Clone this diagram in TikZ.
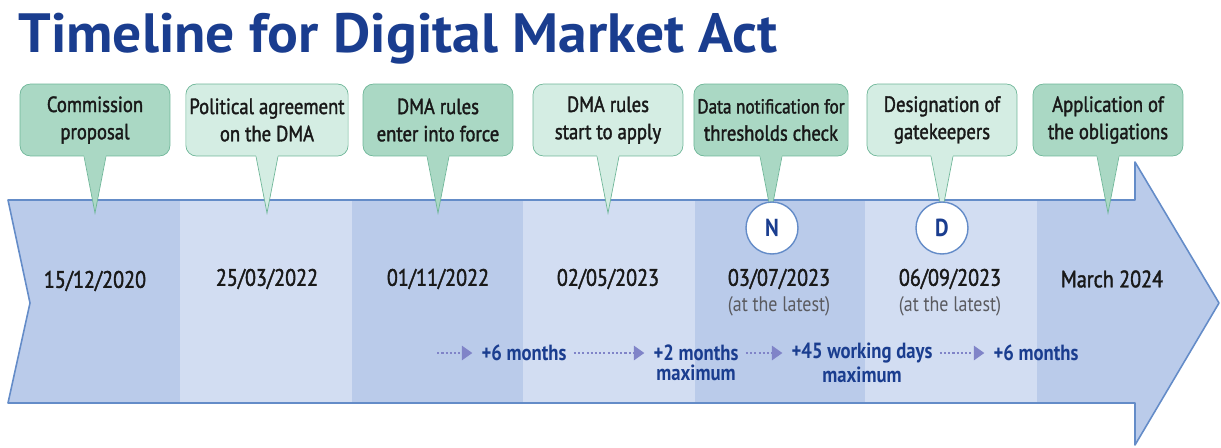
\documentclass[tikz,border=0pt]{standalone}
\usepackage{fontspec}
\setmainfont{PT Sans}[FakeStretch=0.85]
\newfontfamily\medfont{PT Sans}[FakeStretch=0.85,FakeBold=1.6]
\newfontfamily\titlefont{PT Sans Bold}[FakeStretch=1.04]
\usetikzlibrary{positioning,arrows.meta,calc}

\begin{document}
\begin{tikzpicture}[x=0.02cm,y=-0.02cm,every node/.style={font=\fontsize{12}{14}\selectfont}]

\definecolor{titleblue}{RGB}{26,61,143}
\definecolor{banddark}{RGB}{186,203,234}
\definecolor{bandlight}{RGB}{210,221,242}
\definecolor{bandline}{RGB}{100,140,200}
\definecolor{greendark}{RGB}{170,216,196}
\definecolor{greenlight}{RGB}{212,237,227}
\definecolor{greenline}{RGB}{110,182,152}
\definecolor{dotpurple}{RGB}{128,132,200}
\definecolor{latergray}{RGB}{90,90,95}

\tikzset{
  callbox/.style={draw=greenline,rounded corners=6pt,minimum width=3cm,
    minimum height=1.44cm,align=center,inner sep=2pt,text=black!90,
    font=\medfont\fontsize{12.5}{15.5}\selectfont},
  datetext/.style={font=\medfont\fontsize{13.5}{16}\selectfont,text=black!90},
  markcircle/.style={circle,draw=bandline,thick,fill=white,minimum size=1.04cm,
    inner sep=0pt,text=titleblue,font=\fontsize{14}{16}\bfseries},
  durtext/.style={text=titleblue,inner sep=1pt,font=\fontsize{12.5}{14}\bfseries},
  durarrow/.style={draw=dotpurple,line width=1.6pt,dash pattern=on 1.2pt off 1.2pt,
    -{Triangle[length=6pt,width=8pt,fill=dotpurple]},shorten >=4pt,shorten <=3pt}
}

\useasboundingbox (0,0) rectangle (1221,447);

% ===================== TITLE =====================
\node[anchor=base west,inner sep=0pt,text=titleblue,
  font=\titlefont\fontsize{31.5}{34}\selectfont] (title) at (18,52) {Timeline for Digital Market Act};

% ===================== BAND =====================
\begin{scope}
  \clip (8,200) -- (1135,200) -- (1135,162) -- (1219,303) -- (1135,445)
    -- (1135,403) -- (8,403) -- (30,303) -- cycle;
  \foreach \xa/\xb/\c in {8/180/banddark,180/352/bandlight,352/523/banddark,
      523/695/bandlight,695/865/banddark,865/1037/bandlight,1037/1221/banddark}
    \fill[\c] (\xa,150) rectangle (\xb,447);
\end{scope}
\draw[bandline,line width=0.9pt,line join=round] (8,200) -- (1135,200) -- (1135,162)
  -- (1219,303) -- (1135,445) -- (1135,403) -- (8,403) -- (30,303) -- cycle;

% ===================== CALLOUTS =====================
\foreach \n/\x/\c/\txt in {1/95/greendark/{Commission\\proposal},
    2/267/greenlight/{Political agreement\\on the DMA},
    3/438/greendark/{DMA rules\\enter into force},
    4/608/greenlight/{DMA rules\\start to apply},
    5/771/greendark/{\fontsize{11.5}{15.5}\selectfont Data notification for\\thresholds check},
    6/942/greenlight/{Designation of\\gatekeepers},
    7/1108/greendark/{Application of\\the obligations}}{
  \node[callbox,fill=\c] (e\n) at (\x,120) {\txt};
  \coordinate (t\n) at (\x,213);
  \fill[\c] ($(e\n.south)+(-11,-1.5)$) -- (t\n) -- ($(e\n.south)+(11,-1.5)$) -- cycle;
  \draw[greenline] ($(e\n.south)+(-11,0)$) -- (t\n) -- ($(e\n.south)+(11,0)$);
}

% ===================== MARKS =====================
\node[markcircle] (notif) at (772,228) {N};
\node[markcircle] (desig) at (942,228) {D};

% ===================== DATES =====================
\node[datetext] (d1) at (95,281) {15/12/2020};
\node[datetext] (d2) at (267,279) {25/03/2022};
\node[datetext] (d3) at (438,279) {01/11/2022};
\node[datetext] (d4) at (608,279) {02/05/2023};
\node[datetext] (d5) at (779,279) {03/07/2023};
\node[datetext] (d6) at (950,279) {06/09/2023};
\node[datetext] (d7) at (1112,279) {March 2024};
\node[below=-3pt of d5,text=latergray] (l5) {(at the latest)};
\node[below=-3pt of d6,text=latergray] (l6) {(at the latest)};

% ===================== DURATIONS =====================
\node[durtext] (m1) at (524,353) {+6 months};
\node[durtext] (m2) at (696,353) {+2 months};
\node[durtext,below=0pt of m2] (m2b) {maximum};
\node[durtext] (m3) at (862,353) {+45 working days};
\node[durtext,below=0pt of m3] (m3b) {maximum};
\node[durtext] (m4) at (1036,353) {+6 months};
\coordinate (s0) at (432,353);

\draw[durarrow] (s0) -- (m1.west);
\draw[durarrow] (m1.east) -- (m2.west);
\draw[durarrow] (m2.east) -- (m3.west);
\draw[durarrow] (m3.east) -- (m4.west);

\end{tikzpicture}
\end{document}
